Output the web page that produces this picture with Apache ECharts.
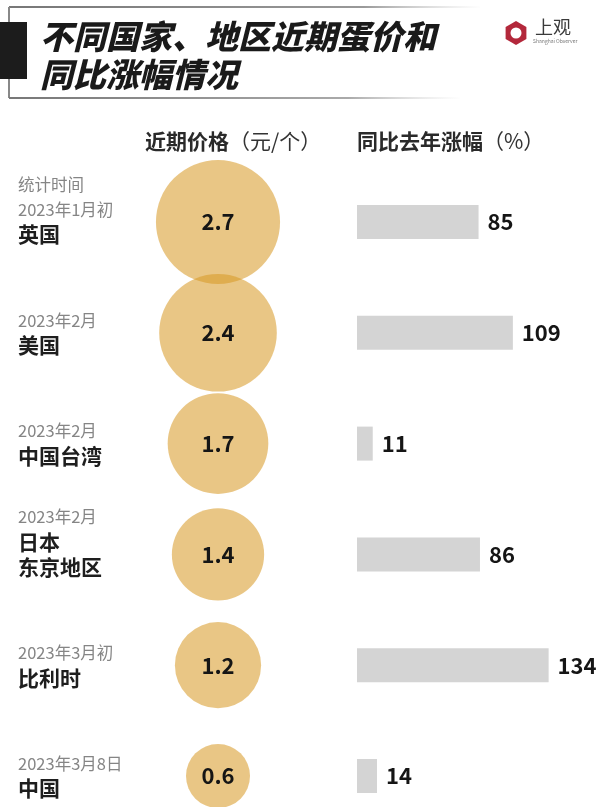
<!DOCTYPE html>
<html>
<head>
<meta charset="utf-8">
<script src="https://cdn.jsdelivr.net/npm/echarts@6/dist/echarts.min.js"></script>
<style>
html,body{margin:0;padding:0;background:#fff;}
#c{width:600px;height:807px;}
</style>
</head>
<body>
<div id="c"></div>
<script>
const regions = ['英国', '美国', '中国台湾', '日本\n东京地区', '比利时', '中国'];
const dates = ['统计时间\n2023年1月初', '2023年2月', '2023年2月', '2023年2月', '2023年3月初', '2023年3月8日'];
const prices = [2.7, 2.4, 1.7, 1.4, 1.2, 0.6];
const growth = [85, 109, 11, 86, 134, 14];
const titleLines = ['不同国家、地区近期蛋价和', '同比涨幅情况'];
const header1 = ['近期价格', '（元/个）'];
const header2 = ['同比去年涨幅', '（%）'];

const FONT = '"Noto Sans CJK SC", "Noto Sans", sans-serif';
const chart = echarts.init(document.getElementById('c'), null, {renderer: 'canvas'});

const GRID_TOP = 222, GRID_BOTTOM = 31;

function hexPoints(cx, cy, r) {
  const pts = [];
  for (let i = 0; i < 6; i++) {
    const a = Math.PI / 6 + i * Math.PI / 3;
    pts.push([cx + r * Math.cos(a), cy + r * Math.sin(a)]);
  }
  return pts;
}

const option = {
  backgroundColor: '#ffffff',
  animation: false,
  textStyle: {fontFamily: FONT},
  grid: [
    {left: 18, width: 100, top: GRID_TOP + 25, bottom: GRID_BOTTOM - 25},
    {left: 118, width: 200, top: GRID_TOP, bottom: GRID_BOTTOM},
    {left: 357, right: 42.8, top: GRID_TOP, bottom: GRID_BOTTOM}
  ],
  xAxis: [
    {gridIndex: 0, type: 'value', show: false, min: 0, max: 1},
    {gridIndex: 1, type: 'value', show: false, min: -1, max: 1},
    {gridIndex: 2, type: 'value', show: false, min: 0, max: 140}
  ],
  yAxis: [
    {
      gridIndex: 0, type: 'category', inverse: true, boundaryGap: false, data: regions,
      axisLine: {show: false}, axisTick: {show: false}, splitLine: {show: false},
      axisLabel: {
        inside: true, margin: 0, interval: 0, align: 'left', verticalAlign: 'bottom',
        formatter: function (val, idx) {
          const d = dates[idx].split('\n').map(s => '{d|' + s + '}');
          const n = regions[idx].split('\n').map(s => '{n|' + s + '}');
          return d.concat(n).join('\n');
        },
        rich: {
          d: {fontFamily: FONT, fontSize: 16.5, color: '#858585', lineHeight: 25},
          n: {fontFamily: FONT, fontSize: 21, fontWeight: 'bold', color: '#1e1e1e', lineHeight: 25}
        }
      }
    },
    {gridIndex: 1, type: 'category', inverse: true, boundaryGap: false, data: regions, show: false},
    {gridIndex: 2, type: 'category', inverse: true, boundaryGap: false, data: regions, show: false}
  ],
  series: [
    {
      type: 'scatter', xAxisIndex: 1, yAxisIndex: 1,
      data: prices.map((p, i) => [0, i, p]),
      symbolSize: function (v) { return 10.4 + 69.2 * Math.sqrt(v[2]); },
      itemStyle: {color: 'rgba(215,154,37,0.56)', opacity: 1},
      label: {
        show: true, position: 'inside',
        formatter: p => p.value[2].toFixed(1),
        fontFamily: FONT, fontSize: 22, fontWeight: 'bold', color: '#151515'
      },
      emphasis: {disabled: true}
    },
    {
      type: 'bar', xAxisIndex: 2, yAxisIndex: 2,
      data: growth, barWidth: 34,
      itemStyle: {color: '#d4d4d4'},
      label: {
        show: true, position: 'right', distance: 9,
        fontFamily: FONT, fontSize: 22, fontWeight: 'bold', color: '#151515'
      },
      emphasis: {disabled: true}
    }
  ],
  graphic: [
    {type: 'line', shape: {x1: 9, y1: 7, x2: 480, y2: 7},
      style: {lineWidth: 2, stroke: {type: 'linear', x: 0, y: 0, x2: 1, y2: 0, colorStops: [{offset: 0, color: '#777'}, {offset: 0.75, color: '#999'}, {offset: 1, color: 'rgba(200,200,200,0)'}]}}},
    {type: 'line', shape: {x1: 9, y1: 7, x2: 9, y2: 98}, style: {lineWidth: 2, stroke: '#888'}},
    {type: 'line', shape: {x1: 9, y1: 98, x2: 460, y2: 98},
      style: {lineWidth: 2, stroke: {type: 'linear', x: 0, y: 0, x2: 1, y2: 0, colorStops: [{offset: 0, color: '#777'}, {offset: 0.75, color: '#aaa'}, {offset: 1, color: 'rgba(210,210,210,0)'}]}}},
    {type: 'rect', shape: {x: 0, y: 22, width: 27, height: 57}, style: {fill: '#1c1c1c'}},
    {type: 'text', left: 40, top: 20, style: {text: titleLines[0], font: 'italic 900 33px ' + FONT, fill: '#1a1a1a'}},
    {type: 'text', left: 40, top: 58, style: {text: titleLines[1], font: 'italic 900 33px ' + FONT, fill: '#1a1a1a'}},
    {type: 'polygon', shape: {points: hexPoints(516, 33, 12)}, style: {fill: '#b3283b'}},
    {type: 'circle', shape: {cx: 516, cy: 33, r: 5.5}, style: {fill: '#ffffff'}},
    {type: 'text', x: 535, y: 18, style: {text: '上观', font: '18px ' + FONT, fill: '#3a3a3a'}},
    {type: 'text', x: 533, y: 39, style: {text: 'Shanghai Observer', font: '5px ' + FONT, fill: '#777'}},
    {type: 'text', x: 145, y: 141, style: {
      text: '{b|' + header1[0] + '}{r|' + header1[1] + '}', verticalAlign: 'middle',
      rich: {b: {fontFamily: FONT, fontSize: 21, fontWeight: 'bold', fill: '#2a2a2a'}, r: {fontFamily: FONT, fontSize: 21, fill: '#333'}}}},
    {type: 'text', x: 357, y: 141, style: {
      text: '{b|' + header2[0] + '}{r|' + header2[1] + '}', verticalAlign: 'middle',
      rich: {b: {fontFamily: FONT, fontSize: 21, fontWeight: 'bold', fill: '#2a2a2a'}, r: {fontFamily: FONT, fontSize: 21, fill: '#333'}}}}
  ]
};
chart.setOption(option);
</script>
</body>
</html>
